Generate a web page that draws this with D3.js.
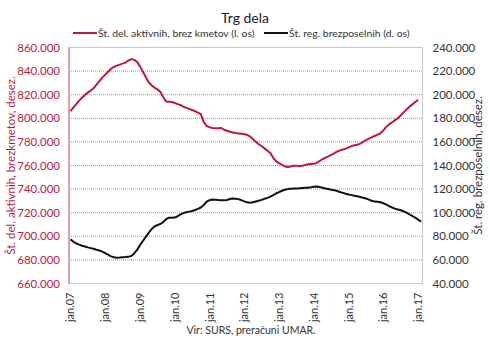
<!DOCTYPE html>
<html>
<head>
<meta charset="utf-8">
<script src="https://cdn.jsdelivr.net/npm/d3@7"></script>
<style>
  body { margin: 0; background: #fff; }
  svg { font-family: Lato, "Noto Sans", sans-serif; }
</style>
</head>
<body>
<svg id="chart" width="490" height="345"></svg>
<script>
// monthly values, jan 2007 .. feb 2017 (thousands)
const yearLabels = ["jan.07", "jan.08", "jan.09", "jan.10", "jan.11", "jan.12",
  "jan.13", "jan.14", "jan.15", "jan.16", "jan.17"];

// employed persons excl. farmers, seasonally adjusted (left axis), last month missing
const employed = [
  806.0, 809.0, 812.0, 815.0, 817.5, 819.8, 821.8, 823.5, 825.5, 828.5, 831.5, 834.5,
  837.0, 839.5, 842.0, 843.6, 844.6, 845.5, 846.3, 847.2, 849.0, 850.2, 849.5, 847.8,
  844.0, 839.5, 835.0, 830.5, 828.0, 826.0, 824.5, 822.5, 818.0, 814.2, 814.0, 813.8,
  813.0, 812.0, 811.3, 809.8, 808.8, 808.0, 807.0, 806.0, 804.8, 803.5, 797.0, 793.5,
  792.5, 791.8, 791.5, 791.6, 791.8, 790.3, 789.5, 788.6, 787.9, 787.5, 787.2, 786.9,
  786.5, 786.0, 784.5, 782.2, 780.0, 778.0, 776.3, 774.5, 772.5, 770.5, 766.5, 763.5,
  762.0, 760.5, 759.2, 758.8, 759.2, 759.8, 759.8, 759.4, 759.8, 760.5, 761.0, 761.2,
  761.4, 762.2, 763.8, 765.3, 766.6, 767.8, 769.0, 770.3, 771.8, 772.8, 773.6, 774.3,
  775.4, 776.4, 777.1, 777.5, 778.6, 780.0, 781.5, 782.8, 784.0, 785.0, 786.2, 787.3,
  789.8, 792.8, 794.8, 796.5, 798.5, 800.0, 802.5, 805.0, 807.5, 809.8, 811.8, 813.8,
  815.6, null
];

// registered unemployed, seasonally adjusted (right axis)
const unemployed = [
  77.4, 75.5, 74.0, 72.9, 72.0, 71.3, 70.6, 70.0, 69.4, 68.6, 67.9, 67.0,
  65.8, 64.5, 63.0, 62.2, 61.9, 62.0, 62.3, 62.4, 62.6, 63.4, 65.5, 68.5,
  72.5, 76.0, 79.5, 83.0, 86.0, 88.3, 89.5, 90.4, 92.0, 94.5, 95.8, 95.7,
  95.9, 97.0, 98.5, 99.7, 100.3, 100.9, 101.5, 102.3, 103.3, 104.4, 106.5, 109.3,
  110.6, 111.2, 111.0, 110.7, 110.6, 110.5, 110.8, 111.6, 112.0, 111.9, 111.5, 110.6,
  109.6, 108.8, 108.4, 108.8, 109.5, 110.2, 110.9, 111.8, 112.6, 113.6, 114.9, 116.3,
  117.5, 118.6, 119.4, 120.0, 120.3, 120.5, 120.6, 120.7, 120.9, 121.1, 121.2, 121.5,
  121.9, 122.2, 121.8, 121.2, 120.5, 120.0, 119.5, 119.1, 118.4, 117.6, 116.8, 116.0,
  115.4, 114.9, 114.4, 114.0, 113.3, 112.6, 112.0, 111.1, 110.1, 109.4, 109.2, 108.9,
  108.0, 106.8, 105.6, 104.4, 103.4, 102.7, 102.1, 101.2, 100.0, 98.6, 97.2, 95.8,
  94.2, 92.4
];

const leftTicks = [660, 680, 700, 720, 740, 760, 780, 800, 820, 840, 860];
const rightTicks = [40, 60, 80, 100, 120, 140, 160, 180, 200, 220, 240];

const red = "#b81c3d";
const margin = { top: 47.5, right: 67.5, bottom: 61.5, left: 69 };
const W = 490, H = 345;
const svg = d3.select("#chart");

const x = d3.scaleLinear()
  .domain([-0.5, unemployed.length - 0.5])
  .range([margin.left, W - margin.right]);
const yL = d3.scaleLinear().domain([660, 860]).range([H - margin.bottom, margin.top]);
const yR = d3.scaleLinear().domain([40, 240]).range([H - margin.bottom, margin.top]);

const fmt = (v) => d3.format(",")(v * 1000).replace(/,/g, ".");

// gridlines (dotted)
svg.append("g")
  .selectAll("line")
  .data(leftTicks.slice(1, -1))
  .enter()
  .append("line")
  .attr("x1", margin.left)
  .attr("x2", W - margin.right)
  .attr("y1", (d) => yL(d))
  .attr("y2", (d) => yL(d))
  .attr("stroke", "#9a9a9a")
  .attr("stroke-width", 1)
  .attr("stroke-dasharray", "1,1");

// plot frame
svg.append("rect")
  .attr("x", margin.left)
  .attr("y", margin.top)
  .attr("width", W - margin.right - margin.left)
  .attr("height", H - margin.bottom - margin.top)
  .attr("fill", "none")
  .attr("stroke", "#c8c8c8")
  .attr("stroke-width", 1);

// left axis line
svg.append("line")
  .attr("x1", margin.left).attr("x2", margin.left)
  .attr("y1", margin.top).attr("y2", H - margin.bottom)
  .attr("stroke", "#de8a9a")
  .attr("stroke-width", 1.5);

// left tick labels
svg.append("g")
  .attr("fill", red)
  .attr("font-size", "11.5px")
  .attr("text-anchor", "end")
  .selectAll("text")
  .data(leftTicks)
  .enter()
  .append("text")
  .attr("x", margin.left - 9)
  .attr("y", (d) => yL(d) + 4)
  .text((d) => fmt(d));

// right tick labels
svg.append("g")
  .attr("fill", "#333")
  .attr("font-size", "11.5px")
  .attr("text-anchor", "start")
  .selectAll("text")
  .data(rightTicks)
  .enter()
  .append("text")
  .attr("x", W - margin.right + 10)
  .attr("y", (d) => yR(d) + 4)
  .text((d) => fmt(d));

// x labels, rotated
svg.append("g")
  .attr("fill", "#333")
  .attr("font-size", "11px")
  .attr("text-anchor", "end")
  .selectAll("text")
  .data(yearLabels)
  .enter()
  .append("text")
  .attr("transform", (d, i) =>
    `translate(${x(i * 12) + 4},${H - margin.bottom + 9}) rotate(-90)`)
  .text((d) => d);

// axis titles
svg.append("text")
  .attr("transform", `translate(15,${(margin.top + H - margin.bottom) / 2}) rotate(-90)`)
  .attr("text-anchor", "middle")
  .attr("fill", red)
  .attr("font-size", "11.5px")
  .text("Št. del. aktivnih, brezkmetov, desez.");

svg.append("text")
  .attr("transform", `translate(482,${(margin.top + H - margin.bottom) / 2}) rotate(-90)`)
  .attr("text-anchor", "middle")
  .attr("fill", "#333")
  .attr("font-size", "11.5px")
  .text("Št. reg. brezposelnih, desez.");

// series lines
const lineL = d3.line()
  .defined((d) => d != null)
  .x((d, i) => x(i))
  .y((d) => yL(d));
const lineR = d3.line()
  .x((d, i) => x(i))
  .y((d) => yR(d));

svg.append("path")
  .datum(employed)
  .attr("fill", "none")
  .attr("stroke", red)
  .attr("stroke-width", 2)
  .attr("stroke-linejoin", "round")
  .attr("d", lineL);

svg.append("path")
  .datum(unemployed)
  .attr("fill", "none")
  .attr("stroke", "#111")
  .attr("stroke-width", 2)
  .attr("stroke-linejoin", "round")
  .attr("d", lineR);

// title
svg.append("text")
  .attr("x", 245)
  .attr("y", 23)
  .attr("text-anchor", "middle")
  .attr("fill", "#222")
  .attr("font-size", "14px")
  .text("Trg dela");

// legend
const legend = [
  { label: "Št. del. aktivnih, brez kmetov (l. os)", color: red, x: 73 },
  { label: "Št. reg. brezposelnih (d. os)", color: "#111", x: 264 }
];
const lg = svg.append("g").selectAll("g").data(legend).enter().append("g");
lg.append("line")
  .attr("x1", (d) => d.x).attr("x2", (d) => d.x + 24)
  .attr("y1", 33).attr("y2", 33)
  .attr("stroke", (d) => d.color)
  .attr("stroke-width", 2);
lg.append("text")
  .attr("x", (d) => d.x + 25)
  .attr("y", 37)
  .attr("font-size", "10.4px")
  .attr("fill", "#333")
  .text((d) => d.label);

// source
svg.append("text")
  .attr("x", 251)
  .attr("y", 334)
  .attr("text-anchor", "middle")
  .attr("fill", "#333")
  .attr("font-size", "10.5px")
  .text("Vir: SURS, preračuni UMAR.");
</script>
</body>
</html>
